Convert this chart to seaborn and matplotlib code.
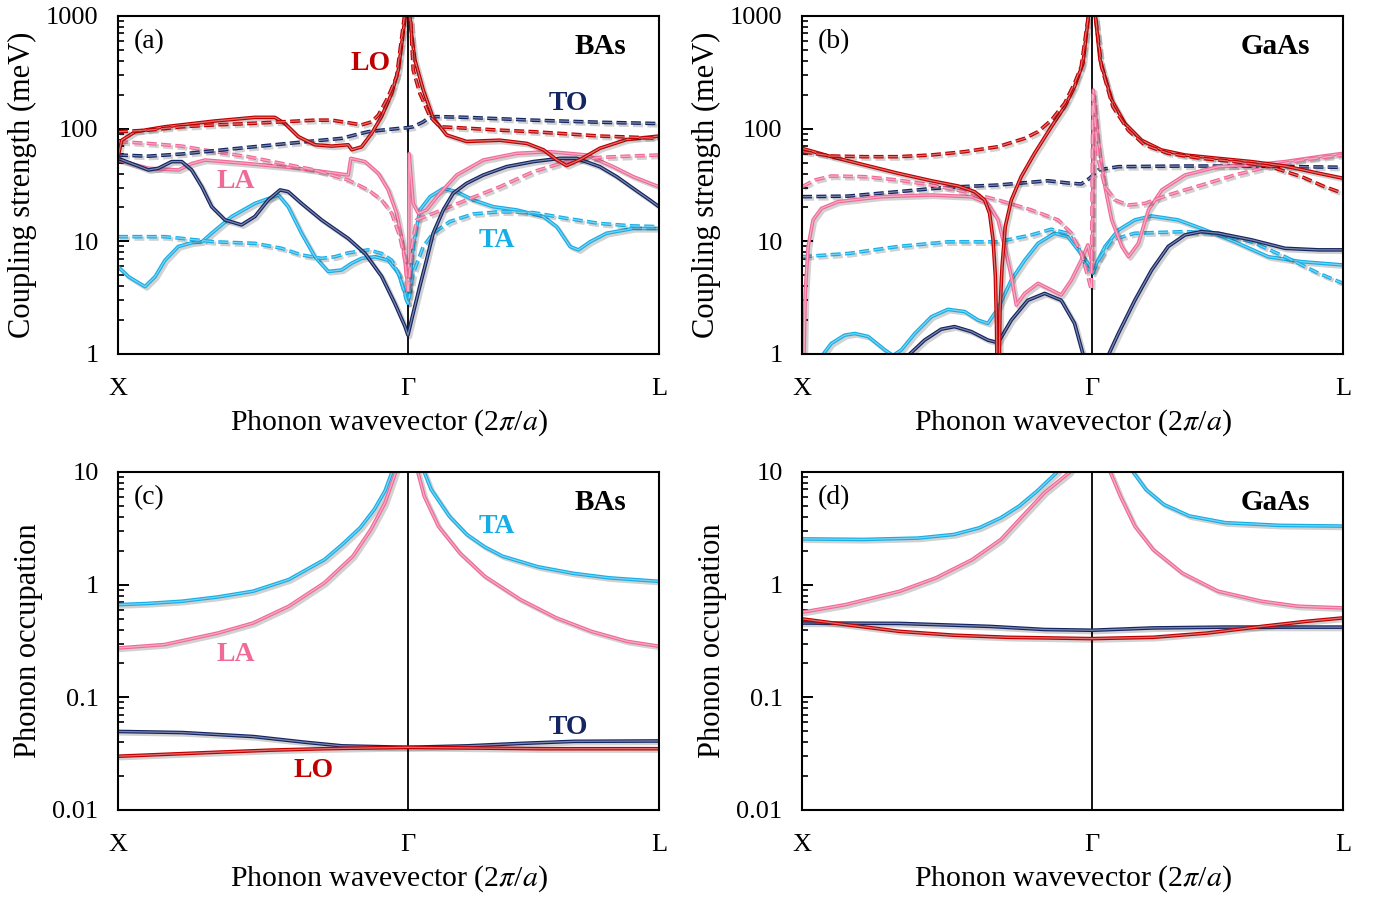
import numpy as np
import pandas as pd
import matplotlib
matplotlib.use('Agg')
import matplotlib.pyplot as plt
import matplotlib.patheffects as pe
from matplotlib.ticker import FuncFormatter, LogLocator, NullFormatter
import seaborn as sns

# ---------------- data (q in 2pi/a ; X=0, Gamma=1, L=1.866) ----------------
# panel (a) BAs coupling strength (meV)
a_lo_q = [0, 0.013, 0.059, 0.162, 0.334, 0.472, 0.541, 0.576, 0.622, 0.679, 0.737, 0.794, 0.806, 0.84,
          0.875, 0.909, 0.944, 0.967, 0.993,
          1.005, 1.012, 1.024, 1.053, 1.087, 1.133, 1.202, 1.317, 1.41, 1.467, 1.513, 1.547, 1.593,
          1.662, 1.754, 1.866]
a_lo = [56, 79, 94, 104, 117, 126, 126, 111, 85, 72, 70, 72, 65, 69,
        91, 128, 206, 332, 1100,
        1100, 700, 407, 220, 124, 88, 77, 79, 74, 65, 53, 47, 53,
        67, 80, 86]
a_lo_dq = [0, 0.105, 0.22, 0.334, 0.449, 0.564, 0.679, 0.737, 0.794, 0.84, 0.875, 0.898, 0.932, 0.961, 0.99,
           1.008, 1.018, 1.041, 1.076, 1.11, 1.202, 1.317, 1.432, 1.547, 1.662, 1.777, 1.866]
a_lo_d = [94, 97, 104, 108, 111, 115, 119, 119, 113, 108, 115, 132, 192, 290, 1100,
          1100, 332, 206, 128, 104, 101, 97, 94, 90, 86, 84, 82]
a_to_q = [0, 0.047, 0.105, 0.139, 0.185, 0.22, 0.254, 0.289, 0.323, 0.369, 0.426, 0.472, 0.518, 0.559,
          0.587, 0.633, 0.702, 0.794, 0.852, 0.909, 0.955, 0.99, 1.0,
          1.018, 1.041, 1.064, 1.087, 1.122, 1.156, 1.202, 1.26, 1.34, 1.432, 1.524, 1.582, 1.662,
          1.72, 1.777, 1.834, 1.866]
a_to = [54.5, 49, 43, 44.5, 51, 51, 43, 30.5, 20.3, 15.5, 14, 16.6, 23.3, 28.6,
        27.6, 21.7, 15.5, 10.6, 7.8, 4.9, 2.8, 1.75, 1.47,
        2.3, 4.0, 6.8, 11.8, 19, 26.7, 32.7, 38.8, 46, 51, 54.5, 54.5, 46,
        37.5, 29.5, 23.3, 20.3]
a_to_dq = [0, 0.105, 0.22, 0.334, 0.449, 0.564, 0.679, 0.771, 0.817, 0.863, 0.909, 0.978, 1.0,
           1.018, 1.053, 1.07, 1.099, 1.202, 1.432, 1.662, 1.866]
a_to_d = [58.4, 57, 59.6, 63.8, 68.3, 73, 78, 82, 88, 94, 97, 101, 102,
          104, 115, 124, 128, 126, 119, 114, 111]
a_la_q = [0, 0.105, 0.208, 0.254, 0.3, 0.449, 0.622, 0.794, 0.803, 0.852, 0.898, 0.932, 0.961, 0.98,
          0.995, 1.0, 1.002, 1.004, 1.018, 1.036, 1.064, 1.11, 1.168, 1.26, 1.375, 1.49, 1.616, 1.708,
          1.777, 1.866]
a_la = [52.7, 44.5, 43, 49, 52.7, 49, 44.5, 38.8, 54.5, 51, 40, 28.6, 17.7, 10.3,
        5.2, 3.7, 3.7, 60, 21.7, 17.7, 19, 26.7, 38.8, 52.7, 60.4, 62.5, 58.4, 46,
        37.5, 30.5]
a_la_dq = [0, 0.105, 0.22, 0.334, 0.449, 0.564, 0.679, 0.794, 0.863, 0.909, 0.944, 0.972, 0.99, 1.0,
           1.013, 1.03, 1.087, 1.202, 1.317, 1.432, 1.547, 1.662, 1.866]
a_la_d = [76.7, 74, 70, 62.5, 56.4, 49.2, 43, 35, 28.6, 23.3, 17.7, 11, 6.8, 3.45,
          9, 15.5, 17.7, 23.3, 30.5, 41.5, 51, 55.7, 58.4]
a_ta_q = [0, 0.036, 0.093, 0.128, 0.162, 0.208, 0.254, 0.289, 0.323, 0.392, 0.472, 0.553, 0.587, 0.633,
          0.679, 0.725, 0.771, 0.806, 0.84, 0.886, 0.932, 0.967, 0.99, 1.0,
          1.018, 1.041, 1.076, 1.122, 1.168, 1.225, 1.294, 1.375, 1.467, 1.513, 1.559, 1.588, 1.628,
          1.685, 1.777, 1.866]
a_ta = [5.96, 4.86, 3.96, 4.86, 6.8, 9.0, 9.7, 9.9, 11.8, 16.6, 21.7, 25.8, 20.3, 11.8,
        7.3, 5.4, 5.57, 6.4, 7.06, 7.3, 6.8, 5.2, 3.45, 2.82,
        9.0, 19, 24.9, 29.5, 27.6, 23.3, 20.3, 19, 16.6, 13.5, 9.0, 8.4, 9.9,
        11.8, 13, 13]
a_ta_dq = [0, 0.162, 0.334, 0.472, 0.564, 0.633, 0.702, 0.748, 0.794, 0.863, 0.909, 0.944, 0.972, 0.995,
           1.001, 1.018, 1.053, 1.087, 1.145, 1.225, 1.317, 1.432, 1.547, 1.662, 1.777, 1.866]
a_ta_d = [11, 11, 9.9, 9.6, 8.67, 7.57, 7.06, 7.3, 7.9, 8.4, 7.8, 6.8, 4.86, 3.0,
          2.82, 5.2, 9.0, 11.8, 15, 17.5, 18.3, 18, 16, 14.4, 13.7, 13.5]

# panel (b) GaAs coupling strength (meV)
b_lo_q = [0, 0.101, 0.216, 0.331, 0.446, 0.538, 0.595, 0.63, 0.647, 0.659, 0.667, 0.671, 0.674,
          0.678, 0.683, 0.69, 0.701, 0.722, 0.756, 0.802, 0.86, 0.906, 0.94, 0.969, 0.99,
          1.01, 1.028, 1.068, 1.114, 1.171, 1.24, 1.321, 1.436, 1.551, 1.666, 1.782, 1.866]
b_lo = [66.9, 56.4, 47.6, 40.2, 34.5, 31, 27.6, 23.3, 17.7, 10.3, 4.86, 1.75, 0.3,
        0.3, 2.46, 5.96, 13.5, 23.3, 37.5, 60.4, 104, 157, 236, 380, 1100,
        1100, 407, 180, 111, 79, 64.7, 58.4, 54.5, 51, 46.6, 40.2, 36.3]
b_lo_dq = [0, 0.101, 0.216, 0.331, 0.446, 0.561, 0.676, 0.768, 0.814, 0.86, 0.906, 0.94, 0.963, 0.99,
           1.01, 1.033, 1.072, 1.125, 1.182, 1.263, 1.378, 1.493, 1.608, 1.723, 1.803, 1.866]
b_lo_d = [62.5, 57.2, 56.4, 56.4, 58.4, 62.5, 69.2, 82, 94, 119, 168, 253, 355, 1100,
          1100, 355, 157, 97, 71.6, 60.4, 54.5, 51, 46.6, 37.5, 30.5, 26.7]
b_to_q = [0, 0.3, 0.366, 0.423, 0.48, 0.526, 0.584, 0.641, 0.676, 0.722, 0.779, 0.837, 0.894, 0.94,
          0.969, 1.0, 1.056, 1.091, 1.148, 1.206, 1.263, 1.321, 1.378, 1.436, 1.551, 1.666, 1.782, 1.866]
b_to = [0.4, 0.6, 0.97, 1.33, 1.66, 1.75, 1.58, 1.33, 1.26, 2.0, 3.0, 3.45, 3.0, 1.87,
        1.0, 0.4, 0.97, 1.52, 3.0, 5.57, 9.0, 11.4, 12.2, 11.8, 10.3, 8.67, 8.4, 8.4]
b_to_dq = [0, 0.159, 0.331, 0.503, 0.676, 0.848, 0.929, 0.963, 0.992, 1.022, 1.091, 1.321, 1.551, 1.866]
b_to_d = [24.9, 25.2, 27.6, 30.2, 31.6, 34.5, 32.7, 32.3, 36.3, 43, 46, 46.6, 46.6, 45.4]
b_la_q = [0, 0.007, 0.011, 0.021, 0.038, 0.067, 0.124, 0.274, 0.446, 0.584, 0.641, 0.676, 0.699, 0.722,
          0.739, 0.768, 0.814, 0.86, 0.894, 0.929, 0.963, 0.986, 0.998, 1.002,
          1.005, 1.022, 1.045, 1.068, 1.103, 1.126, 1.16, 1.195, 1.241, 1.321, 1.436, 1.551, 1.666,
          1.782, 1.866]
b_la = [0.5, 1.0, 3.45, 9.0, 15.5, 19.6, 22.5, 24.9, 25.8, 24.9, 21.7, 15.5, 9.0, 4.86,
        2.72, 3.45, 4.24, 3.7, 3.34, 4.54, 6.8, 9.3, 6.8, 6.0,
        220, 79, 30.5, 15.5, 9.0, 7.3, 9.6, 19, 28.6, 38.8, 46, 47.6, 51,
        56.4, 60.4]
b_la_dq = [0, 0.044, 0.101, 0.216, 0.331, 0.446, 0.561, 0.676, 0.791, 0.883, 0.929, 0.963, 0.986, 0.998,
           1.003, 1.022, 1.045, 1.079, 1.125, 1.182, 1.263, 1.378, 1.493, 1.608, 1.723, 1.866]
b_la_d = [30.5, 35, 38, 37.5, 35, 31.6, 27.6, 23.3, 19, 15.5, 11.8, 7.8, 4.86, 3.7,
          200, 52.7, 30.5, 23.3, 21, 21.7, 25.8, 31.6, 38.8, 46, 52.7, 58.4]
b_ta_q = [0, 0.067, 0.101, 0.147, 0.182, 0.228, 0.285, 0.314, 0.343, 0.389, 0.446, 0.503, 0.561, 0.607,
          0.641, 0.676, 0.722, 0.768, 0.814, 0.871, 0.917, 0.952, 0.986, 1.003,
          1.045, 1.091, 1.148, 1.206, 1.297, 1.378, 1.493, 1.608, 1.723, 1.866]
b_ta = [0.5, 0.95, 1.24, 1.47, 1.52, 1.43, 1.09, 0.97, 1.09, 1.52, 2.14, 2.49, 2.38, 2.0,
        1.87, 2.54, 4.54, 6.8, 9.6, 11.8, 11, 8.4, 6.4, 5.5,
        9.0, 12.6, 15.5, 16.8, 15.5, 13, 9.9, 7.3, 6.6, 6.17]
b_ta_dq = [0, 0.159, 0.331, 0.503, 0.676, 0.791, 0.86, 0.917, 0.952, 0.98, 1.003,
           1.022, 1.068, 1.148, 1.321, 1.436, 1.551, 1.666, 1.782, 1.866]
b_ta_d = [7.3, 7.8, 9.0, 9.9, 9.9, 11.4, 12.8, 11.8, 9.0, 5.96, 5.2,
          6.8, 10.3, 11.8, 12.2, 11.8, 9.9, 7.3, 5.2, 4.24]

# panel (c) BAs phonon occupation
c_ta_q = [0, 0.098, 0.221, 0.344, 0.466, 0.589, 0.712, 0.773, 0.835, 0.884, 0.921, 0.945, 0.96,
          1.045, 1.056, 1.08, 1.142, 1.203, 1.264, 1.326, 1.449, 1.571, 1.694, 1.866]
c_ta = [0.665, 0.68, 0.713, 0.778, 0.875, 1.11, 1.67, 2.27, 3.2, 4.66, 6.8, 10, 13,
        13, 10, 7.0, 4.07, 2.79, 2.17, 1.79, 1.44, 1.26, 1.15, 1.07]
c_la_q = [0, 0.16, 0.344, 0.466, 0.589, 0.712, 0.81, 0.872, 0.921, 0.958, 0.97,
          1.025, 1.034, 1.056, 1.105, 1.178, 1.264, 1.387, 1.51, 1.633, 1.756, 1.866]
c_la = [0.274, 0.294, 0.372, 0.457, 0.644, 1.04, 1.79, 3.09, 5.33, 10, 13,
        13, 10, 6.1, 3.3, 1.92, 1.19, 0.74, 0.51, 0.385, 0.314, 0.284]
c_to_q = [0, 0.221, 0.466, 0.651, 0.773, 1.0, 1.205, 1.39, 1.575, 1.866]
c_to = [0.0498, 0.0487, 0.0449, 0.0398, 0.0371, 0.036, 0.0371, 0.039, 0.0407, 0.041]
c_lo_q = [0, 0.344, 0.528, 0.712, 1.0, 1.449, 1.866]
c_lo = [0.030, 0.0326, 0.034, 0.035, 0.036, 0.035, 0.035]

# panel (d) GaAs phonon occupation
d_ta_q = [0, 0.212, 0.4, 0.524, 0.612, 0.686, 0.749, 0.811, 0.88, 0.89,
          1.13, 1.142, 1.186, 1.248, 1.336, 1.46, 1.648, 1.866]
d_ta = [2.55, 2.52, 2.59, 2.79, 3.2, 3.93, 4.99, 6.78, 10, 11,
        11, 10, 7.0, 5.15, 4.07, 3.55, 3.36, 3.31]
d_la_q = [0, 0.15, 0.337, 0.462, 0.587, 0.686, 0.761, 0.836, 0.924, 0.93,
          1.055, 1.063, 1.098, 1.148, 1.211, 1.311, 1.435, 1.585, 1.71, 1.866]
d_la = [0.569, 0.665, 0.875, 1.15, 1.67, 2.52, 4.07, 6.55, 10, 11,
        11, 10, 6.1, 3.3, 2.05, 1.27, 0.875, 0.713, 0.644, 0.622]
d_to_q = [0, 0.337, 0.649, 0.836, 1.0, 1.211, 1.46, 1.866]
d_to = [0.457, 0.453, 0.426, 0.40, 0.394, 0.413, 0.42, 0.42]
d_lo_q = [0, 0.15, 0.337, 0.524, 0.711, 1.0, 1.211, 1.398, 1.585, 1.741, 1.866]
d_lo = [0.497, 0.442, 0.385, 0.356, 0.341, 0.332, 0.341, 0.372, 0.426, 0.473, 0.507]

q_ticks = [0, 1.0, 1.866]
q_labels = ['X', 'Γ', 'L']

colors = {'LO': '#C00000', 'TO': '#142563', 'LA': '#F06A98', 'TA': '#16AEE6'}

# ---------------- style ----------------
sns.set_style('ticks')
plt.rcParams['font.family'] = ['Liberation Serif', 'DejaVu Serif']
plt.rcParams['mathtext.fontset'] = 'stix'
for k in ['text.color', 'axes.labelcolor', 'xtick.color', 'ytick.color', 'axes.edgecolor']:
    plt.rcParams[k] = 'black'

fig = plt.figure(figsize=(13.76, 8.97), dpi=100)
W, H = 1376, 897


def box(l, t, r, b):
    return [l / W, 1 - b / H, (r - l) / W, (b - t) / H]


def lighten(c, f=0.45):
    rgb = np.array(matplotlib.colors.to_rgb(c))
    return tuple(rgb + (1 - rgb) * f)


def curve(ax, q, v, mode, dashed=False):
    c = colors[mode]
    effects = [pe.SimpleLineShadow(offset=(1.5, -1.5), shadow_color='k', alpha=0.18, linewidth=3.0),
               pe.Stroke(linewidth=2.6, foreground=c), pe.Normal()]
    ls = (0, (8, 3.5)) if dashed else '-'
    sns.lineplot(x=q, y=v, ax=ax, color=lighten(c), lw=0.9, linestyle=ls,
                 estimator=None, sort=False, path_effects=effects)


def style_axis(ax, ymin, ymax, ylabel, ylab_x):
    ax.set_yscale('log')
    ax.set_ylim(ymin, ymax)
    ax.set_xlim(0, 1.866)
    ax.axvline(1.0, color='k', lw=1.3, zorder=1)
    ax.yaxis.set_major_formatter(FuncFormatter(lambda v, p: f'{v:g}'))
    ax.yaxis.set_minor_locator(LogLocator(base=10, subs=np.arange(2, 10)))
    ax.yaxis.set_minor_formatter(NullFormatter())
    ax.tick_params(axis='y', which='major', direction='in', length=8, width=1.4,
                   labelsize=19, pad=14, right=False)
    ax.tick_params(axis='y', which='minor', direction='in', length=4.5, width=1.2, right=False)
    ax.set_xticks(q_ticks)
    ax.set_xticklabels(q_labels)
    ax.tick_params(axis='x', length=0, labelsize=19, pad=17)
    ax.set_ylabel(ylabel, fontsize=22, va='center')
    ax.yaxis.set_label_coords(ylab_x, 0.5)
    ax.set_xlabel('Phonon wavevector (2$\\mathit{\\pi}$/$\\mathit{a}$)', fontsize=21.5, va='center')
    ax.xaxis.set_label_coords(0.5, -0.204)
    for s in ax.spines.values():
        s.set_visible(True)
        s.set_linewidth(1.5)
        s.set_color('k')


ax_a = fig.add_axes(box(118, 16, 659, 354))
ax_b = fig.add_axes(box(802, 16, 1343, 354))
ax_c = fig.add_axes(box(118, 472, 659, 810))
ax_d = fig.add_axes(box(802, 472, 1343, 810))

# (a)
curve(ax_a, a_ta_q, a_ta, 'TA')
curve(ax_a, a_ta_dq, a_ta_d, 'TA', True)
curve(ax_a, a_la_q, a_la, 'LA')
curve(ax_a, a_la_dq, a_la_d, 'LA', True)
curve(ax_a, a_to_q, a_to, 'TO')
curve(ax_a, a_to_dq, a_to_d, 'TO', True)
curve(ax_a, a_lo_q, a_lo, 'LO')
curve(ax_a, a_lo_dq, a_lo_d, 'LO', True)

# (b)
curve(ax_b, b_ta_q, b_ta, 'TA')
curve(ax_b, b_ta_dq, b_ta_d, 'TA', True)
curve(ax_b, b_to_q, b_to, 'TO')
curve(ax_b, b_to_dq, b_to_d, 'TO', True)
curve(ax_b, b_la_q, b_la, 'LA')
curve(ax_b, b_la_dq, b_la_d, 'LA', True)
curve(ax_b, b_lo_q, b_lo, 'LO')
curve(ax_b, b_lo_dq, b_lo_d, 'LO', True)

# (c)
curve(ax_c, c_ta_q, c_ta, 'TA')
curve(ax_c, c_la_q, c_la, 'LA')
curve(ax_c, c_to_q, c_to, 'TO')
curve(ax_c, c_lo_q, c_lo, 'LO')

# (d)
curve(ax_d, d_ta_q, d_ta, 'TA')
curve(ax_d, d_la_q, d_la, 'LA')
curve(ax_d, d_to_q, d_to, 'TO')
curve(ax_d, d_lo_q, d_lo, 'LO')

style_axis(ax_a, 1, 1000, 'Coupling strength (meV)', -0.177)
style_axis(ax_b, 1, 1000, 'Coupling strength (meV)', -0.177)
style_axis(ax_c, 0.01, 10, 'Phonon occupation', -0.166)
style_axis(ax_d, 0.01, 10, 'Phonon occupation', -0.166)

for ax, tag, mat in [(ax_a, '(a)', 'BAs'), (ax_b, '(b)', 'GaAs'), (ax_c, '(c)', 'BAs'), (ax_d, '(d)', 'GaAs')]:
    ax.text(0.03, 0.925, tag, transform=ax.transAxes, fontsize=20, va='center', ha='left')
    ax.text(0.94, 0.91, mat, transform=ax.transAxes, fontsize=21, fontweight='bold',
            va='center', ha='right')

# mode labels
lab = dict(fontsize=20, fontweight='bold', va='center', ha='center')
ax_a.text(0.466, 0.858, 'LO', color=colors['LO'], transform=ax_a.transAxes, **lab)
ax_a.text(0.832, 0.740, 'TO', color=colors['TO'], transform=ax_a.transAxes, **lab)
ax_a.text(0.218, 0.509, 'LA', color=colors['LA'], transform=ax_a.transAxes, **lab)
ax_a.text(0.701, 0.337, 'TA', color=colors['TA'], transform=ax_a.transAxes, **lab)
ax_c.text(0.701, 0.840, 'TA', color=colors['TA'], transform=ax_c.transAxes, **lab)
ax_c.text(0.218, 0.459, 'LA', color=colors['LA'], transform=ax_c.transAxes, **lab)
ax_c.text(0.832, 0.243, 'TO', color=colors['TO'], transform=ax_c.transAxes, **lab)
ax_c.text(0.362, 0.118, 'LO', color=colors['LO'], transform=ax_c.transAxes, **lab)

fig.savefig('out.png', dpi=100)
